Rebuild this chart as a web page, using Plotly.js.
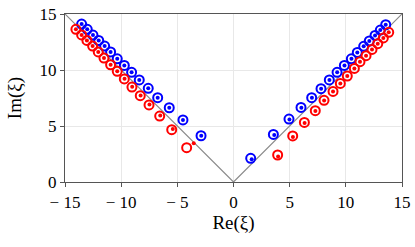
<!DOCTYPE html>
<html>
<head>
<meta charset="utf-8">
<script src="https://cdn.plot.ly/plotly-3.0.1.min.js"></script>
<style>html,body{margin:0;padding:0;background:#fff}#chart{width:415px;height:247px}</style>
</head>
<body>
<div id="chart"></div>
<script>
// Blue series (open circles)
const blueRe = [-13.52,-13.02,-12.51,-12.00,-11.47,-10.94,-10.35,-9.72,-9.07,-8.39,-7.59,-6.75,-5.72,-4.50,-2.89,
                1.53,3.55,4.94,6.01,6.96,7.79,8.53,9.22,9.87,10.49,11.02,11.59,12.09,12.60,13.07,13.55];
const blueIm = [14.10,13.63,13.12,12.64,12.14,11.61,11.00,10.41,9.79,9.11,8.36,7.53,6.63,5.54,4.13,
                2.11,4.25,5.62,6.66,7.53,8.33,9.11,9.79,10.41,11.00,11.57,12.11,12.59,13.09,13.57,14.04];
// Blue series (dots)
const blueDotRe = [-13.52,-13.02,-12.51,-12.00,-11.47,-10.94,-10.35,-9.72,-9.07,-8.39,-7.59,-6.75,-5.72,-4.50,-2.87,
                1.62,3.63,4.98,6.04,6.98,7.80,8.54,9.23,9.88,10.50,11.02,11.59,12.09,12.60,13.07,13.55];
const blueDotIm = [14.10,13.63,13.12,12.64,12.14,11.61,11.00,10.41,9.79,9.11,8.36,7.53,6.63,5.54,4.12,
                2.03,4.20,5.58,6.64,7.52,8.32,9.10,9.79,10.41,11.00,11.57,12.11,12.59,13.09,13.57,14.04];
// Red series (open circles)
const redRe = [-14.03,-13.52,-13.05,-12.54,-12.04,-11.53,-10.94,-10.35,-9.72,-9.04,-8.30,-7.52,-6.57,-5.50,-4.17,
               3.93,5.27,6.31,7.28,8.06,8.86,9.51,10.13,10.76,11.26,11.80,12.33,12.84,13.34,13.82];
const redIm = [13.63,13.13,12.64,12.14,11.61,11.07,10.47,9.88,9.20,8.48,7.71,6.88,5.89,4.67,3.06,
               2.41,4.11,5.32,6.37,7.29,8.09,8.80,9.46,10.14,10.74,11.28,11.84,12.35,12.86,13.36];
// Red series (dots)
const redDotRe = [-14.03,-13.52,-13.05,-12.54,-12.04,-11.53,-10.94,-10.35,-9.70,-9.02,-8.27,-7.48,-6.52,-5.40,-3.54,
               3.97,5.29,6.33,7.29,8.07,8.86,9.51,10.13,10.76,11.26,11.80,12.33,12.84,13.34,13.82];
const redDotIm = [13.63,13.13,12.64,12.14,11.61,11.07,10.47,9.88,9.21,8.50,7.73,6.91,5.93,4.74,3.45,
               2.27,4.02,5.26,6.33,7.27,8.08,8.80,9.46,10.14,10.74,11.28,11.84,12.35,12.86,13.36];
// Reference |Re| = Im lines
const refRe = [-15, 0, 15];
const refIm = [15, 0, 15];
// Tick labels
const xTickVals = [-15,-10,-5,0,5,10,15];
const xTickText = ['− 15','− 10','− 5','0','5','10','15'];
const yTickVals = [0,5,10,15];
const yTickText = ['0','5','10','15'];

const font = 'Liberation Serif';
const traces = [
  {x: refRe, y: refIm, mode: 'lines', line: {color: '#8c8c8c', width: 1.2}, hoverinfo: 'skip'},
  {x: blueRe, y: blueIm, mode: 'markers', marker: {symbol: 'circle-open', size: 9, color: '#0000ff', line: {width: 2, color: '#0000ff'}}},
  {x: blueDotRe, y: blueDotIm, mode: 'markers', marker: {symbol: 'circle', size: 4, color: '#0000ff'}},
  {x: redRe, y: redIm, mode: 'markers', marker: {symbol: 'circle-open', size: 9, color: '#ff0000', line: {width: 2, color: '#ff0000'}}},
  {x: redDotRe, y: redDotIm, mode: 'markers', marker: {symbol: 'circle', size: 4, color: '#ff0000'}}
];
const layout = {
  width: 415, height: 247,
  margin: {l: 65, r: 13, t: 14, b: 65},
  paper_bgcolor: '#fff', plot_bgcolor: '#fff',
  showlegend: false,
  font: {family: font, size: 17, color: '#000'},
  xaxis: {
    range: [-15, 15], tickvals: xTickVals, ticktext: xTickText,
    showgrid: true, gridcolor: '#e8e8e8', gridwidth: 1, zeroline: false,
    showline: true, linecolor: '#555', linewidth: 1.2, mirror: true,
    ticks: 'outside', ticklen: 4, tickcolor: '#555', tickwidth: 1,
    tickfont: {family: font, size: 17},
    title: {text: 'Re(ξ)', font: {family: font, size: 19}, standoff: 2}
  },
  yaxis: {
    range: [0, 15], tickvals: yTickVals, ticktext: yTickText,
    showgrid: true, gridcolor: '#e8e8e8', gridwidth: 1, zeroline: false,
    showline: true, linecolor: '#555', linewidth: 1.2, mirror: true,
    ticks: 'outside', ticklen: 4, tickcolor: '#555', tickwidth: 1,
    tickfont: {family: font, size: 17},
    title: {text: 'Im(ξ)', font: {family: font, size: 19}, standoff: 12}
  }
};
Plotly.newPlot('chart', traces, layout, {displayModeBar: false, staticPlot: true});
</script>
</body>
</html>
